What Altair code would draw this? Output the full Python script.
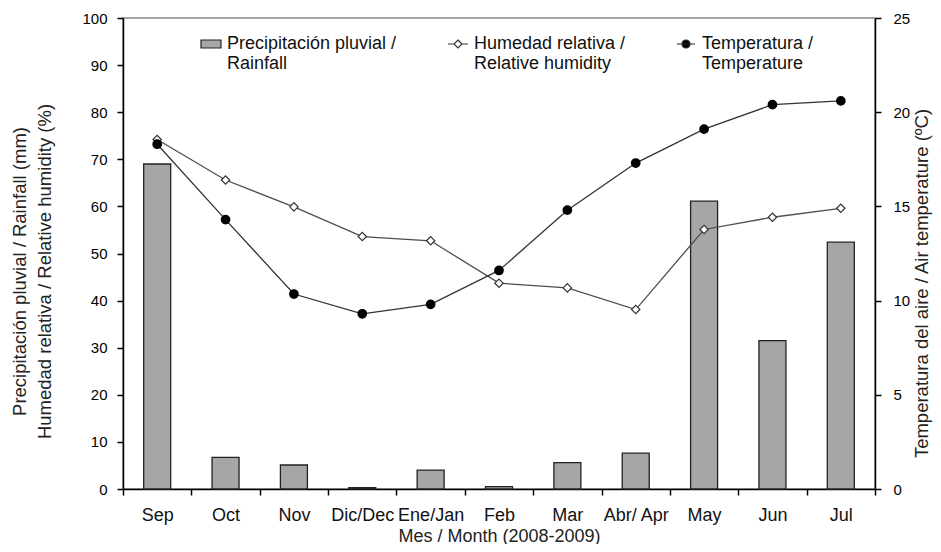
import altair as alt
import pandas as pd

months = ["Sep", "Oct", "Nov", "Dic/Dec", "Ene/Jan", "Feb", "Mar", "Abr/ Apr", "May", "Jun", "Jul"]
rainfall = [69.0, 6.7, 5.1, 0.3, 4.0, 0.5, 5.6, 7.6, 61.1, 31.5, 52.4]
humidity = [74.2, 65.6, 59.9, 53.6, 52.7, 43.7, 42.7, 38.1, 55.1, 57.7, 59.6]
temperature = [18.3, 14.3, 10.35, 9.3, 9.8, 11.6, 14.8, 17.3, 19.1, 20.4, 20.6]

left_ticks = [0, 10, 20, 30, 40, 50, 60, 70, 80, 90, 100]
right_ticks = [0, 5, 10, 15, 20, 25]

legend_names = ["Precipitación pluvial /|Rainfall",
                "Humedad relativa /|Relative humidity",
                "Temperatura /|Temperature"]
legend_fills = ["#a6a6a6", "white", "black"]
legend_strokes = ["#222", "#333", "#222"]
legend_shapes = [
    "M-1,-0.4H1V0.4H-1Z",
    "M-1,0H-0.4M0.4,0H1M0,-0.4L0.4,0L0,0.4L-0.4,0Z",
    "M-0.9,0H0.9M0.4,0A0.4,0.4,0,1,1,-0.4,0A0.4,0.4,0,1,1,0.4,0Z",
]

FONT = "Liberation Sans"

df = pd.DataFrame({"month": months, "rain": rainfall, "hum": humidity, "temp": temperature})
legend_df = pd.DataFrame({"month": [months[0]] * 3, "v": [-50] * 3, "series": legend_names})

x_enc = alt.X(
    "month:N",
    sort=months,
    scale=alt.Scale(domain=months, paddingInner=0, paddingOuter=0),
    axis=alt.Axis(
        title="Mes / Month (2008-2009)",
        tickBand="extent",
        labelAngle=0,
        labelFontSize=18,
        labelPadding=11,
        labelColor="#111",
        tickSize=6,
        tickWidth=1.5,
        tickColor="black",
        domainColor="black",
        domainWidth=1.5,
        titleFontSize=18,
        titleX=376,
        titleY=47,
        titleBaseline="middle",
        titleAlign="center",
        grid=False,
    ),
)

left_axis = alt.Axis(
    values=left_ticks,
    title=["Precipitación pluvial / Rainfall (mm)", "Humedad relativa / Relative humidity (%)"],
    titleFontSize=18.5,
    titleX=-104,
    titleY=253,
    titleAngle=270,
    titleAlign="center",
    titleBaseline="middle",
    titleLineHeight=25,
    labelFontSize=15,
    labelPadding=10,
    labelColor="black",
    tickSize=6,
    tickWidth=1.5,
    tickColor="black",
    domainColor="black",
    domainWidth=1.5,
    grid=False,
)
left_scale = alt.Scale(domain=[0, 100], nice=False, zero=True)


def ly(field):
    return alt.Y(field, type="quantitative", scale=left_scale, axis=left_axis)


bars = alt.Chart(df).mark_bar(size=27, fill="#a6a6a6", stroke="#222", strokeWidth=1.3).encode(
    x=x_enc, y=ly("rain")
)
hum_line = alt.Chart(df).mark_line(color="#4d4d4d", strokeWidth=1.3).encode(x=x_enc, y=ly("hum"))
hum_pts = alt.Chart(df).mark_point(
    shape="diamond", size=70, filled=True, fill="white", stroke="#333", strokeWidth=1.2, opacity=1
).encode(x=x_enc, y=ly("hum"))

leg = alt.Legend(
    title=None,
    orient="none",
    legendX=77,
    legendY=15,
    direction="horizontal",
    columns=3,
    columnPadding=48,
    padding=0,
    symbolSize=400,
    symbolStrokeWidth=1.2,
    labelFont=FONT,
    labelFontSize=18,
    labelColor="#111",
    labelLimit=400,
    labelOffset=5,
    labelExpr="split(datum.label, '|')",
)

legend_layer = alt.Chart(legend_df).mark_point(
    filled=True, clip=True, strokeWidth=1.2, size=400, opacity=1
).encode(
    x=x_enc,
    y=ly("v"),
    fill=alt.Fill("series:N", scale=alt.Scale(domain=legend_names, range=legend_fills), legend=leg),
    stroke=alt.Stroke("series:N", scale=alt.Scale(domain=legend_names, range=legend_strokes), legend=leg),
    shape=alt.Shape("series:N", scale=alt.Scale(domain=legend_names, range=legend_shapes), legend=leg),
)

right_axis = alt.Axis(
    orient="right",
    values=right_ticks,
    title="Temperatura del aire /  Air temperature (ºC)",
    titleFontSize=18.5,
    titleX=46,
    titleY=265,
    titleAngle=270,
    titleAlign="center",
    titleBaseline="middle",
    labelFontSize=15,
    labelPadding=12,
    labelColor="black",
    tickSize=6,
    tickWidth=1.5,
    tickColor="black",
    domainColor="black",
    domainWidth=1.5,
    grid=False,
)
right_scale = alt.Scale(domain=[0, 25], nice=False)

temp_line = alt.Chart(df).mark_line(color="#333", strokeWidth=1.3).encode(
    x=x_enc, y=alt.Y("temp:Q", scale=right_scale, axis=right_axis)
)
temp_pts = alt.Chart(df).mark_point(
    shape="circle", size=60, filled=True, fill="black", stroke="black", opacity=1
).encode(x=x_enc, y=alt.Y("temp:Q", scale=right_scale, axis=right_axis))

left = alt.layer(bars, hum_line, hum_pts, legend_layer)
right = alt.layer(temp_line, temp_pts)

chart = (
    alt.layer(left, right)
    .resolve_scale(y="independent")
    .properties(
        width=752,
        height=471,
        padding={"left": 115, "top": 10, "right": 58, "bottom": 55},
        autosize=alt.AutoSizeParams(type="none"),
    )
    .configure(font=FONT)
    .configure_view(stroke="#888", strokeWidth=1.5)
    .configure_axis(titleFont=FONT, labelFont=FONT, titleFontWeight="normal", titleColor="#222")
)

chart.save("out.html", embed_options={"renderer": "svg", "actions": False})
